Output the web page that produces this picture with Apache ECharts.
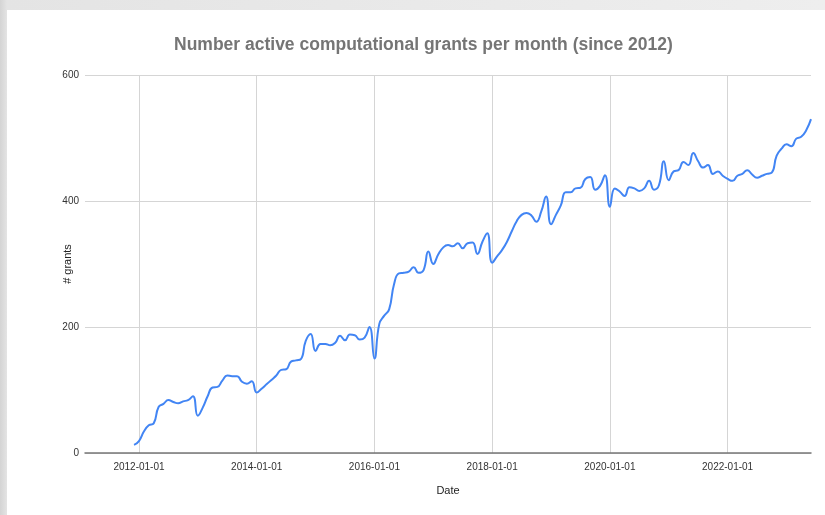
<!DOCTYPE html>
<html>
<head>
<meta charset="utf-8">
<script src="https://cdn.jsdelivr.net/npm/echarts@6/dist/echarts.min.js"></script>
<style>
  html, body { margin: 0; padding: 0; }
  body {
    width: 825px; height: 515px; overflow: hidden;
    background: linear-gradient(to right, #d4d4d4 0px, #e4e4e4 7px, #eeeeee 100%);
  }
  #chart {
    position: absolute; left: 7px; top: 10px;
    width: 818px; height: 505px; background: #fff;
  }
</style>
</head>
<body>
<div id="chart"></div>
<script>
// monthly values, first month 2011-12
const firstMonth = '2011-12-01'
const grants = [
  13,
  19, 34, 44, 47, 73, 78, 84, 81, 79, 82, 84, 90,
  59, 72, 90, 104, 105, 115, 123, 122, 122, 113, 110, 114,
  96, 102, 109, 116, 123, 132, 133, 145, 147, 149, 178, 189,
  162, 173, 173, 171, 175, 186, 179, 188, 187, 180, 183, 200,
  150, 205, 218, 228, 268, 285, 286, 288, 295, 286, 290, 320,
  300, 315, 326, 330, 328, 333, 325, 333, 334, 316, 335, 349,
  302, 312, 322, 335, 352, 368, 378, 381, 377, 367, 383, 407,
  363, 378, 393, 414, 414, 420, 421, 435, 438, 418, 424, 441,
  391, 420, 415, 408, 422, 420, 416, 420, 432, 418, 425, 463,
  433, 447, 449, 462, 457, 476, 463, 453, 457, 443, 447, 440,
  435, 432, 440, 443, 449, 442, 437, 440, 443, 445, 472, 483,
  490, 487, 499, 502, 512, 530
]
const tickLabels = ['2012-01-01', '2014-01-01', '2016-01-01', '2018-01-01', '2020-01-01', '2022-01-01']
const yTicks = [0, 200, 400, 600]

// month categories along the axis (2011-02 .. 2023-06)
const months = []
for (let y = 2011, m = 2; y < 2023 || (y === 2023 && m <= 6); m++) {
  if (m > 12) { m = 1; y++ }
  months.push(y + '-' + String(m).padStart(2, '0') + '-01')
}
const start = months.indexOf(firstMonth)

let myChart = echarts.init(document.getElementById('chart'))
let option = {
  animation: false,
  textStyle: { fontFamily: 'Liberation Sans, Arial, sans-serif' },
  title: {
    text: 'Number active computational grants per month (since 2012)',
    left: 162,
    top: 21,
    textStyle: { color: '#757575', fontSize: 17.5, fontWeight: 'bold' }
  },
  grid: { left: 78, top: 65, width: 726, height: 378, containLabel: false },
  xAxis: {
    type: 'category',
    data: months,
    boundaryGap: false,
    name: 'Date',
    nameLocation: 'middle',
    nameGap: 32,
    nameTextStyle: { color: '#222', fontSize: 11 },
    axisLine: { lineStyle: { color: '#777', width: 1.5 } },
    axisTick: { show: false },
    axisLabel: {
      color: '#333',
      fontSize: 10,
      margin: 9,
      interval: function (i, v) { return tickLabels.indexOf(v) >= 0 }
    },
    splitLine: {
      show: true,
      interval: function (i, v) { return tickLabels.indexOf(v) >= 0 },
      lineStyle: { color: '#d5d5d5', width: 1 }
    }
  },
  yAxis: {
    type: 'value',
    min: yTicks[0],
    max: yTicks[yTicks.length - 1],
    interval: 200,
    name: '# grants',
    nameLocation: 'middle',
    nameGap: 12,
    nameMoveOverlap: false,
    nameTextStyle: { color: '#222', fontSize: 11 },
    axisLine: { show: false },
    axisTick: { show: false },
    axisLabel: { color: '#333', fontSize: 10, margin: 6 },
    splitLine: { lineStyle: { color: '#d5d5d5', width: 1 } }
  },
  series: [
    {
      name: '# grants',
      type: 'line',
      smooth: 0.5,
      showSymbol: false,
      data: grants.map(function (v, i) { return [months[start + i], v] }),
      lineStyle: { color: '#4285F4', width: 2 },
      itemStyle: { color: '#4285F4' }
    }
  ]
}
myChart.setOption(option)
</script>
</body>
</html>
